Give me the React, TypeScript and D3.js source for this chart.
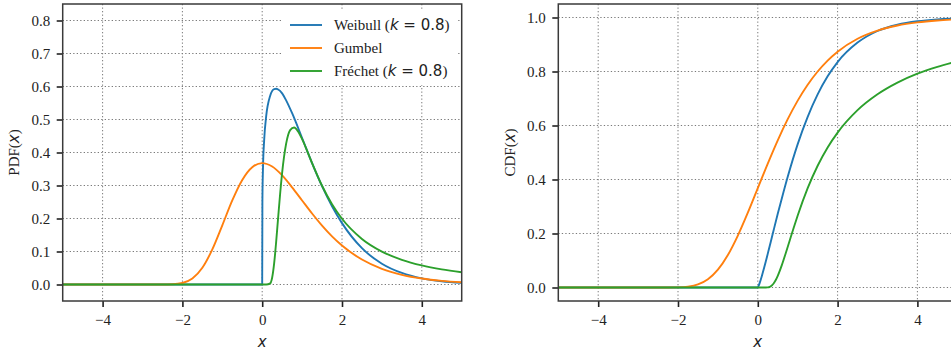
import React, { useEffect, useRef } from "react";
import * as d3 from "d3";

// values
const xTicks = [-4, -2, 0, 2, 4];
const pdfTicks = [0, 0.1, 0.2, 0.3, 0.4, 0.5, 0.6, 0.7, 0.8];
const cdfTicks = [0, 0.2, 0.4, 0.6, 0.8, 1.0];

const weibullX = [-5, 0, 0.005, 0.02, 0.05, 0.1, 0.2, 0.3, 0.35, 0.4, 0.5, 0.6, 0.75, 1, 1.25, 1.5, 1.75, 2, 2.5, 3, 3.5, 4, 4.5, 5];
const weibullPdf = [0, 0, 0.251, 0.354, 0.439, 0.51, 0.572, 0.592, 0.593, 0.591, 0.579, 0.558, 0.519, 0.444, 0.368, 0.298, 0.237, 0.186, 0.11, 0.063, 0.035, 0.0185, 0.0097, 0.0049];
const weibullCdf = [0, 0, 0.001, 0.006, 0.018, 0.042, 0.096, 0.155, 0.184, 0.214, 0.273, 0.329, 0.41, 0.531, 0.632, 0.715, 0.782, 0.835, 0.907, 0.95, 0.973, 0.986, 0.993, 0.9965];

const gumbelX = [-5, -3, -2.5, -2.25, -2, -1.75, -1.5, -1.25, -1, -0.75, -0.5, -0.25, 0, 0.25, 0.5, 0.75, 1, 1.25, 1.5, 1.75, 2, 2.5, 3, 3.5, 4, 4.5, 5];
const gumbelPdf = [0, 0, 0.0001, 0.0007, 0.0046, 0.0182, 0.0507, 0.1065, 0.1794, 0.2549, 0.317, 0.3556, 0.3679, 0.3574, 0.3307, 0.2945, 0.2546, 0.2151, 0.1785, 0.146, 0.1182, 0.0756, 0.0474, 0.0293, 0.018, 0.011, 0.0067];
const gumbelCdf = [0, 0, 0, 0.0001, 0.0006, 0.0032, 0.0113, 0.0305, 0.066, 0.1204, 0.1923, 0.2769, 0.3679, 0.4589, 0.5452, 0.6235, 0.6922, 0.7509, 0.8, 0.8405, 0.8734, 0.9212, 0.9514, 0.9703, 0.9819, 0.989, 0.9933];

const frechetX = [-5, 0.1, 0.2, 0.25, 0.3, 0.35, 0.4, 0.45, 0.5, 0.6, 0.7, 0.8, 0.9, 1, 1.25, 1.5, 1.75, 2, 2.5, 3, 3.5, 4, 4.5, 5];
const frechetPdf = [0, 0, 0.0032, 0.0212, 0.0645, 0.1294, 0.2035, 0.2758, 0.339, 0.4267, 0.4677, 0.4758, 0.4636, 0.4406, 0.3679, 0.2992, 0.2432, 0.1992, 0.1381, 0.0998, 0.0748, 0.0578, 0.0458, 0.037];
const frechetCdf = [0, 0, 0.0001, 0.0006, 0.0026, 0.0074, 0.0157, 0.0277, 0.0431, 0.0818, 0.1269, 0.1743, 0.2214, 0.2667, 0.3679, 0.451, 0.5186, 0.5737, 0.6568, 0.7155, 0.7587, 0.7917, 0.8173, 0.838];

const seriesNames = ["Weibull", "Gumbel", "Fréchet"];
const colors = ["#1f77b4", "#ff7f0e", "#2ca02c"];

const SERIF = "'Liberation Serif', 'Times New Roman', serif";
const SANS = "'DejaVu Sans', sans-serif";
const FS = "15px";

const App = () => {
  const svgRef = useRef<SVGSVGElement>(null);

  useEffect(() => {
    const svg = d3.select(svgRef.current);
    svg.selectAll("*").remove();

    const panels = [
      {
        id: "pdf", left: 62.7, right: 461.7, top: 4, bottom: 301,
        yDomain: [-0.05, 0.85], yTicks: pdfTicks, label: "PDF", labelX: 19,
        xs: [weibullX, gumbelX, frechetX], ys: [weibullPdf, gumbelPdf, frechetPdf],
      },
      {
        id: "cdf", left: 558.3, right: 957.3, top: 4, bottom: 301,
        yDomain: [-0.05, 1.05], yTicks: cdfTicks, label: "CDF", labelX: 515,
        xs: [weibullX, gumbelX, frechetX], ys: [weibullCdf, gumbelCdf, frechetCdf],
      },
    ];

    panels.forEach(p => {
      const x = d3.scaleLinear().domain([-5, 5]).range([p.left, p.right]);
      const y = d3.scaleLinear().domain(p.yDomain).range([p.bottom, p.top]);
      const g = svg.append("g");

      g.append("clipPath").attr("id", "clip-" + p.id)
        .append("rect")
        .attr("x", p.left).attr("y", p.top)
        .attr("width", p.right - p.left).attr("height", p.bottom - p.top);

      // grid
      const grid = g.append("g")
        .attr("stroke", "#7a7a7a").attr("stroke-width", 1)
        .attr("stroke-dasharray", "1.3,2.2");
      grid.selectAll("line.vx").data(xTicks).enter().append("line")
        .attr("x1", d => x(d)).attr("x2", d => x(d))
        .attr("y1", p.top).attr("y2", p.bottom);
      grid.selectAll("line.hy").data(p.yTicks).enter().append("line")
        .attr("x1", p.left).attr("x2", p.right)
        .attr("y1", d => y(d)).attr("y2", d => y(d));

      // curves
      const line = d3.line<[number, number]>()
        .x(d => x(d[0])).y(d => y(d[1]))
        .curve(d3.curveMonotoneX);
      const curves = g.append("g").attr("clip-path", `url(#clip-${p.id})`);
      p.xs.forEach((xs, i) => {
        const pts: [number, number][] = xs.map((v, j) => [v, p.ys[i][j]]);
        curves.append("path")
          .attr("d", line(pts))
          .attr("fill", "none")
          .attr("stroke", colors[i])
          .attr("stroke-width", 1.9);
      });

      // axes
      const xAxis = g.append("g")
        .attr("transform", `translate(0,${p.bottom})`)
        .call(d3.axisBottom(x).tickValues(xTicks).tickFormat(d3.format("d")).tickSize(6).tickPadding(7.5));
      const yAxis = g.append("g")
        .attr("transform", `translate(${p.left},0)`)
        .call(d3.axisLeft(y).tickValues(p.yTicks).tickFormat(d3.format(".1f")).tickSize(6).tickPadding(6.5));
      [xAxis, yAxis].forEach(a => {
        a.select(".domain").remove();
        a.selectAll(".tick line").attr("stroke", "#222").attr("stroke-width", 1.6);
        a.selectAll(".tick text")
          .attr("fill", "#222")
          .style("font-family", SERIF)
          .style("font-size", FS);
      });

      // spines
      g.append("rect")
        .attr("x", p.left).attr("y", p.top)
        .attr("width", p.right - p.left).attr("height", p.bottom - p.top)
        .attr("fill", "none").attr("stroke", "#3a3a3a").attr("stroke-width", 1.5);

      // x label
      g.append("text")
        .attr("x", x(0)).attr("y", 347)
        .attr("text-anchor", "middle")
        .attr("fill", "#222")
        .style("font-family", SANS).style("font-style", "italic").style("font-size", FS)
        .text("x");

      // y label
      const yl = g.append("text")
        .attr("transform", `translate(${p.labelX},${(p.top + p.bottom) / 2}) rotate(-90)`)
        .attr("text-anchor", "middle")
        .attr("fill", "#222")
        .style("font-size", FS);
      yl.append("tspan").style("font-family", SERIF).text(p.label + "(");
      yl.append("tspan").style("font-family", SANS).style("font-style", "italic").text("x");
      yl.append("tspan").style("font-family", SERIF).text(")");

      // legend in the first panel
      if (p.id === "pdf") {
        const lg = g.append("g");
        lg.append("rect")
          .attr("x", 283).attr("y", 9).attr("width", 175).attr("height", 76)
          .attr("fill", "white");
        seriesNames.forEach((name, i) => {
          const ly = 25 + i * 23;
          lg.append("line")
            .attr("x1", 290).attr("x2", 322).attr("y1", ly).attr("y2", ly)
            .attr("stroke", colors[i]).attr("stroke-width", 1.9);
          const t = lg.append("text")
            .attr("x", 334).attr("y", ly + 5)
            .attr("fill", "#222")
            .style("font-size", FS);
          if (i === 1) {
            t.append("tspan").style("font-family", SERIF).text(name);
          } else {
            t.append("tspan").style("font-family", SERIF).text(name + " (");
            t.append("tspan").style("font-family", SANS).style("font-style", "italic").text("k");
            t.append("tspan").style("font-family", SANS).text(" = 0.8");
            t.append("tspan").style("font-family", SERIF).text(")");
          }
        });
      }
    });
  }, []);

  return (
    <svg
      ref={svgRef}
      width={951}
      height={352}
      style={{ position: "absolute", left: 0, top: 0, background: "white" }}
    />
  );
};

export default App;
